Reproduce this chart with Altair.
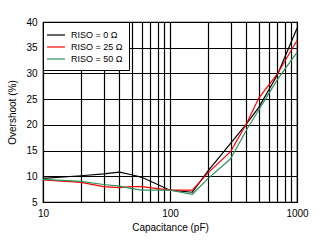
import altair as alt
import pandas as pd

cap = [10, 20, 30, 40, 50, 60, 100, 150, 200, 300, 400, 500, 700, 1000]
r0 = [9.6, 10.1, 10.45, 10.8, 10.3, 9.8, 7.3, 6.9, 11.1, 16.4, 20.2, 23.4, 29.7, 38.8]
r25 = [9.3, 8.8, 8.0, 7.8, 8.0, 8.0, 7.3, 7.3, 10.7, 14.8, 20.2, 25.2, 29.9, 36.4]
r50 = [9.4, 9.0, 8.4, 8.1, 7.6, 7.3, 7.3, 6.5, 9.6, 13.4, 19.0, 22.9, 28.8, 34.1]
series = ["RISO = 0 Ω", "RISO = 25 Ω", "RISO = 50 Ω"]
colors = ["#000000", "#ff0000", "#2a9360"]

rows = []
for name, vals in zip(series, [r0, r25, r50]):
    for c, v in zip(cap, vals):
        rows.append({"cap": c, "val": v, "s": name})
df = pd.DataFrame(rows)

xgrid = [10, 20, 30, 40, 50, 60, 70, 80, 90, 100, 200, 300, 400, 500, 600, 700, 800, 900, 1000]

common = dict(grid=True, gridColor="black", gridOpacity=1, gridWidth=1.2,
              domain=False, tickSize=0, tickOpacity=0, labelFlush=False,
              labelFont="Liberation Sans", labelFontSize=10, labelColor="black",
              titleFont="Liberation Sans", titleFontSize=10, titleColor="black",
              titleFontWeight="normal")

chart = alt.Chart(df).mark_line(strokeWidth=1.2).encode(
    x=alt.X("cap:Q", scale=alt.Scale(type="log", domain=[10, 1000]),
            axis=alt.Axis(values=xgrid, title="Capacitance (pF)", labelPadding=6, titlePadding=4,
                          labelExpr="(datum.value==10||datum.value==100||datum.value==1000)?format(datum.value,'d'):''",
                          **common)),
    y=alt.Y("val:Q", scale=alt.Scale(domain=[5, 40]),
            axis=alt.Axis(values=[5, 10, 15, 20, 25, 30, 35, 40], title="Overshoot (%)",
                          labelPadding=6, titlePadding=8, **common)),
    color=alt.Color("s:N", scale=alt.Scale(domain=series, range=colors),
                    legend=alt.Legend(title=None, orient="top-left")),
).properties(
    width=254, height=180,
    autosize=alt.AutoSizeParams(type="none"),
    padding={"left": 43, "top": 22, "right": 25, "bottom": 41},
).configure_view(stroke="black", strokeWidth=1.2).configure_legend(
    strokeColor="black", fillColor="white", padding=6, offset=0,
    symbolType="M-1.5,0L1.5,0", symbolSize=144, symbolStrokeWidth=1.2,
    labelFont="Liberation Sans", labelFontSize=9, labelColor="black",
    rowPadding=0, cornerRadius=0, labelOffset=8,
)

chart.save("out.html", embed_options={"renderer": "svg", "actions": False})
